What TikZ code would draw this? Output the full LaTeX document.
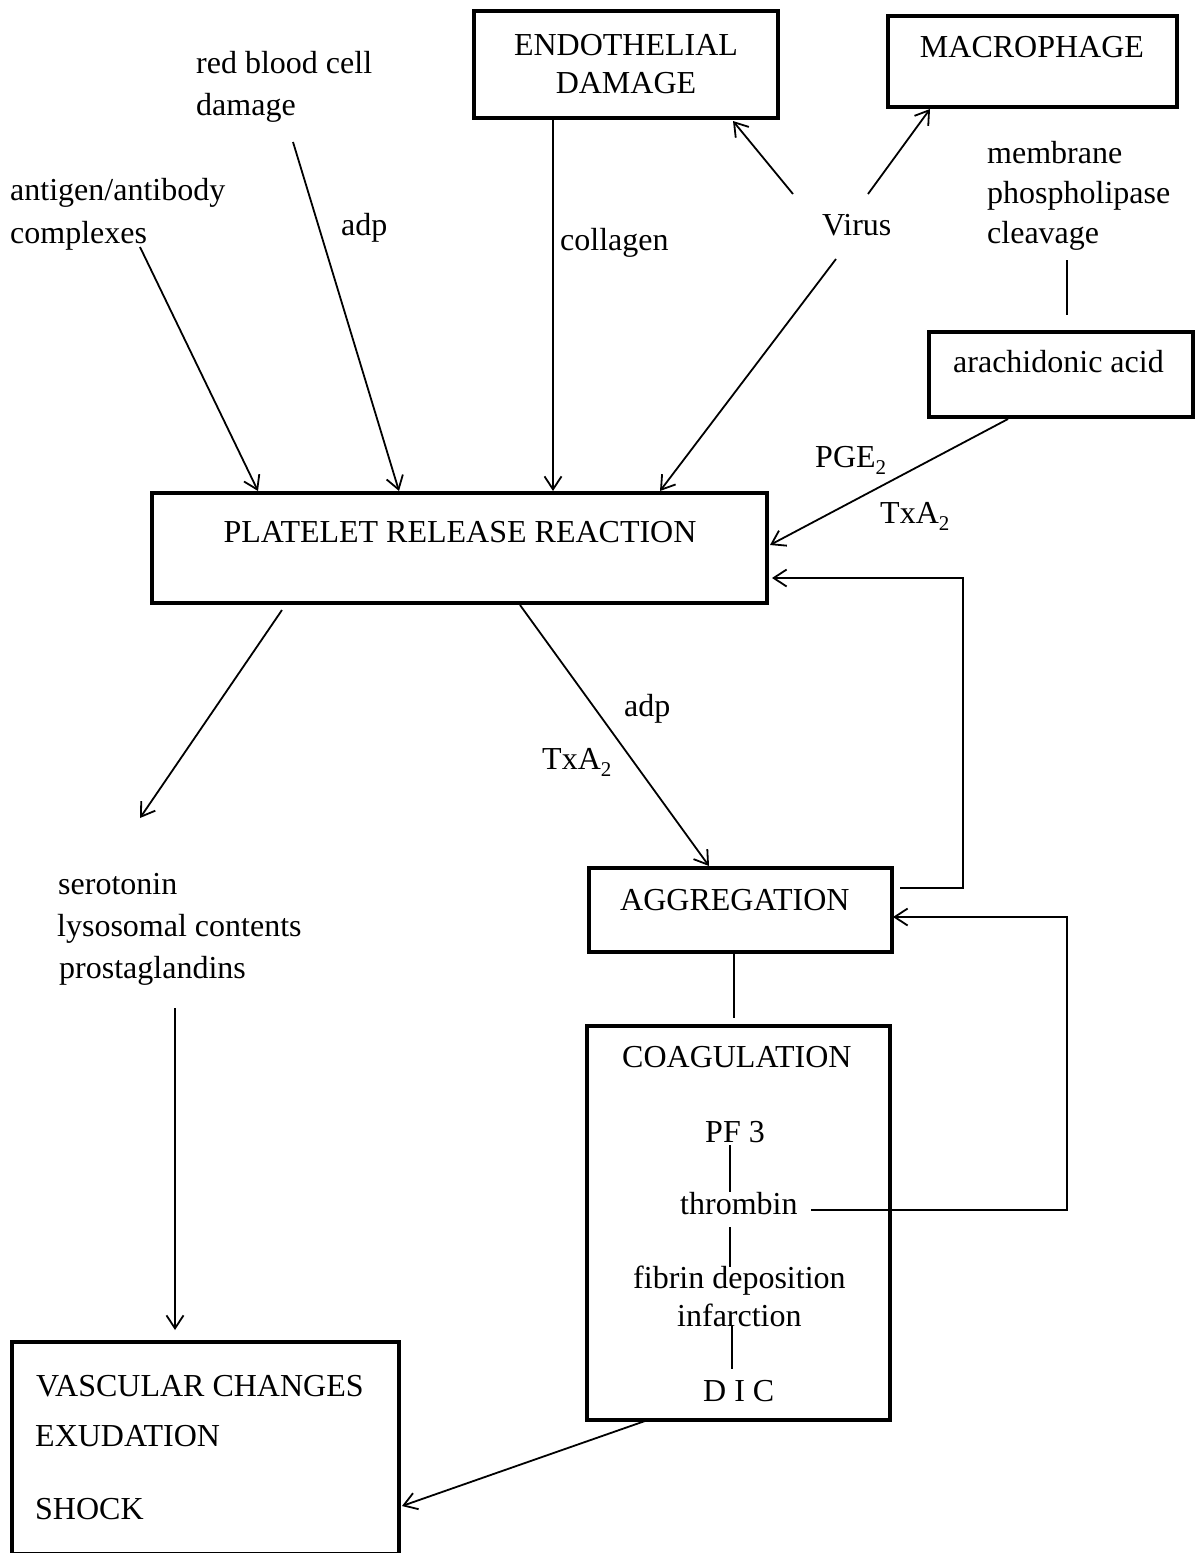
\documentclass[tikz,border=0pt]{standalone}
\usepackage{fontspec}
\setmainfont{Liberation Serif}
\usetikzlibrary{arrows.meta}
\newcommand\subtwo{\raisebox{-0.22em}{\fontsize{21}{21}\selectfont 2}}
\begin{document}
\begin{tikzpicture}[x=1pt,y=-1pt,
  every node/.style={inner sep=0pt, font=\fontsize{32}{38}\selectfont},
  box/.style={draw, line width=4pt, rectangle, inner sep=0pt},
  conn/.style={line width=1.8pt},
  arr/.style={conn, -{Straight Barb[length=13pt,width=17pt]}},
  lbl/.style={anchor=base west},
  clbl/.style={anchor=base}]
\useasboundingbox (0,0) rectangle (1203,1553);
% boxes
\node[box, minimum width=304pt, minimum height=107pt] (endo) at (626,64.5) {};
\node[box, minimum width=289pt, minimum height=91pt] (macro) at (1032.5,61.5) {};
\node[box, minimum width=264pt, minimum height=85pt] (arach) at (1061,374.5) {};
\node[box, minimum width=615pt, minimum height=110pt] (plat) at (459.5,548) {};
\node[box, minimum width=303pt, minimum height=84pt] (aggr) at (740.5,910) {};
\node[box, minimum width=303pt, minimum height=394pt] (coag) at (738.5,1223) {};
\node[box, minimum width=387pt, minimum height=212pt] (vasc) at (205.5,1448) {};
% box texts
\node[clbl] (endoA) at (626,55) {ENDOTHELIAL};
\node[clbl] (endoB) at (626,93) {DAMAGE};
\node[clbl] (macroT) at (1032,57) {MACROPHAGE};
\node[lbl] (arachT) at (953,372) {arachidonic acid};
\node[clbl] (platT) at (460,542) {PLATELET RELEASE REACTION};
\node[lbl] (aggrT) at (620,910) {AGGREGATION};
\node[lbl] (coagT) at (622,1067) {COAGULATION};
\node[clbl] (pf) at (735,1142) {PF 3};
\node[lbl] (thr) at (680,1214) {thrombin};
\node[lbl] (fib) at (633,1288) {fibrin deposition};
\node[lbl] (inf) at (677,1326) {infarction};
\node[lbl] (dic) at (703,1401) {D I C};
\node[lbl] (vascA) at (36,1396) {VASCULAR CHANGES};
\node[lbl] (vascB) at (35,1446) {EXUDATION};
\node[lbl] (vascC) at (35,1519) {SHOCK};
% free texts
\node[lbl] (rbcA) at (196,73) {red blood cell};
\node[lbl] (rbcB) at (196,115) {damage};
\node[lbl] (agA) at (10,200) {antigen/antibody};
\node[lbl] (agB) at (10,243) {complexes};
\node[lbl] (adp1) at (341,235) {adp};
\node[lbl] (coll) at (560,250) {collagen};
\node[lbl] (virus) at (822,235) {Virus};
\node[lbl] (memA) at (987,163) {membrane};
\node[lbl] (memB) at (987,203) {phospholipase};
\node[lbl] (memC) at (987,243) {cleavage};
\node[lbl] (pge) at (815,467) {PGE\subtwo};
\node[lbl] (txa1) at (880,523) {TxA\subtwo};
\node[lbl] (adp2) at (624,716) {adp};
\node[lbl] (txa2) at (542,769) {TxA\subtwo};
\node[lbl] (serA) at (58,894) {serotonin};
\node[lbl] (serB) at (57,936) {lysosomal contents};
\node[lbl] (serC) at (59,978) {prostaglandins};
% connector free ends
\coordinate (agS) at (140,247);
\coordinate (rbcS) at (293,142);
\coordinate (virS1) at (836,259);
\coordinate (virS2) at (793,194);
\coordinate (virS3) at (868,194);
\coordinate (virE2) at (733,121);
\coordinate (virE3) at (930,109);
\coordinate (memS) at (1067,260);
\coordinate (memE) at (1067,315);
\coordinate (pgeE) at (770,545);
\coordinate (serS) at (282,610);
\coordinate (serE) at (140,818);
\coordinate (fbA) at (900,888);
\coordinate (fbB) at (963,888);
\coordinate (fbC) at (963,578);
\coordinate (fbD) at (772,578);
\coordinate (coagTop) at (734,1018);
\coordinate (thA) at (811,1210);
\coordinate (thB) at (1067,1210);
\coordinate (thC) at (1067,917);
\coordinate (thD) at (893,917);
\coordinate (c1a) at (730,1145);
\coordinate (c1b) at (730,1192);
\coordinate (c2a) at (730,1227);
\coordinate (c2b) at (730,1267);
\coordinate (c3a) at (732,1325);
\coordinate (c3b) at (732,1369);
\coordinate (cvS) at (645,1421);
\coordinate (cvE) at (402,1506);
\coordinate (prS) at (175,1008);
\coordinate (prE) at (175,1330);
% connectors
\draw[arr] (agS) -- (258,0 |- plat.north);
\draw[arr] (rbcS) -- (399,0 |- plat.north);
\draw[arr] (553,0 |- endo.south) -- (553,0 |- plat.north);
\draw[arr] (virS1) -- (660,0 |- plat.north);
\draw[arr] (virS2) -- (virE2);
\draw[arr] (virS3) -- (virE3);
\draw[conn] (memS) -- (memE);
\draw[arr] (1008,0 |- arach.south) -- (pgeE);
\draw[arr] (serS) -- (serE);
\draw[arr] (520,0 |- plat.south) -- (709,0 |- aggr.north);
\draw[arr] (fbA) -- (fbB) -- (fbC) -- (fbD);
\draw[conn] (734,0 |- aggr.south) -- (coagTop);
\draw[arr] (thA) -- (thB) -- (thC) -- (thD);
\draw[conn] (c1a) -- (c1b);
\draw[conn] (c2a) -- (c2b);
\draw[conn] (c3a) -- (c3b);
\draw[arr] (cvS) -- (cvE);
\draw[arr] (prS) -- (prE);
\end{tikzpicture}
\end{document}
